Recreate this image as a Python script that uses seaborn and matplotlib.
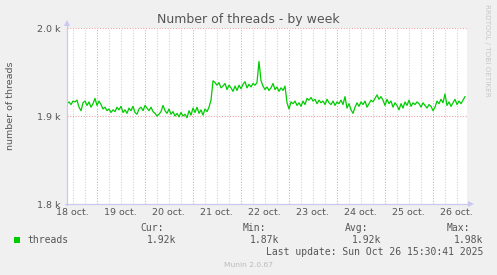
import matplotlib
matplotlib.use("Agg")
import matplotlib.pyplot as plt
import numpy as np
import pandas as pd
import seaborn as sns

# ---------------- data ----------------
start_time = "2025-10-18 09:15"
threads = [
    1914, 1916, 1913, 1917, 1916, 1918, 1910, 1906, 1915, 1917,
    1912, 1916, 1910, 1914, 1920, 1912, 1917, 1913, 1908, 1910,
    1906, 1908, 1904, 1907, 1905, 1910, 1907, 1911, 1904, 1907,
    1903, 1909, 1906, 1911, 1904, 1902, 1908, 1910, 1906, 1912,
    1909, 1906, 1910, 1905, 1903, 1900, 1902, 1905, 1912, 1906,
    1903, 1908, 1902, 1905, 1900, 1903, 1899, 1904, 1900, 1902,
    1898, 1906, 1901, 1909, 1904, 1910, 1903, 1907, 1901, 1908,
    1905, 1910, 1918, 1940, 1938, 1935, 1938, 1932, 1934, 1937,
    1930, 1935, 1932, 1928, 1934, 1929, 1935, 1931, 1936, 1939,
    1932, 1936, 1933, 1937, 1935, 1938, 1962, 1940, 1934, 1930,
    1933, 1929, 1932, 1937, 1930, 1933, 1928, 1932, 1929, 1934,
    1915, 1908, 1916, 1914, 1917, 1912, 1915, 1911, 1917, 1913,
    1920, 1918, 1921, 1917, 1919, 1914, 1918, 1915, 1917, 1913,
    1919, 1915, 1913, 1917, 1912, 1916, 1914, 1918, 1913, 1922,
    1909, 1914, 1907, 1903, 1910, 1915, 1911, 1916, 1913, 1917,
    1910, 1914, 1918, 1916, 1920, 1924, 1919, 1922, 1918, 1912,
    1919, 1914, 1917, 1910, 1915, 1912, 1907, 1914, 1909, 1916,
    1912, 1918, 1911, 1915, 1913, 1916, 1914, 1910, 1915, 1912,
    1909, 1913, 1911, 1906, 1910, 1917, 1914, 1919, 1915, 1925,
    1912, 1916, 1911, 1915, 1919, 1913, 1917, 1914, 1918, 1922,
]
day_labels = ["18 oct.", "19 oct.", "20 oct.", "21 oct.", "22 oct.",
              "23 oct.", "24 oct.", "25 oct.", "26 oct."]
y_ticks = [1800, 1900, 2000]
y_tick_labels = ["1.8 k", "1.9 k", "2.0 k"]
stat_names = ["Cur:", "Min:", "Avg:", "Max:"]
stat_values = ["1.92k", "1.87k", "1.92k", "1.98k"]
series_name = "threads"
title = "Number of threads - by week"
ylabel = "number of threads"
last_update = "Last update: Sun Oct 26 15:30:41 2025"
version = "Munin 2.0.67"
side_text = "RRDTOOL / TOBI OETIKER"

times = pd.date_range(start_time, periods=len(threads), freq="h")
df = pd.DataFrame({"time": times, "threads": threads})

# ---------------- figure ----------------
W, H = 497, 275
BG = "#F0F0F0"
fig = plt.figure(figsize=(W / 100, H / 100), dpi=100, facecolor=BG)

L, R, T, B = 67, 467, 28, 204
ax = fig.add_axes([L / W, 1 - B / H, (R - L) / W, (B - T) / H])
ax.set_facecolor("white")

sns.lineplot(data=df, x="time", y="threads", ax=ax, color="#00CC00",
             linewidth=0.9, zorder=5)

t0 = times[0]
t1 = t0 + pd.Timedelta(hours=200)
ax.set_xlim(t0, t1)
ax.set_ylim(1800, 2000)

dots = (0, (1.0, 1.6))
grey = "#CFCFCF"
red = "#EC9C9C"

# ticks / grids
day0 = pd.Timestamp("2025-10-18")
noons = [day0 + pd.Timedelta(days=k, hours=12) for k in range(len(day_labels))]
ax.set_xticks(noons)
ax.set_xticklabels(day_labels)
ax.tick_params(axis="x", which="both", length=0, pad=3, labelsize=6.8,
               labelcolor="#555555")
ax.grid(False)
six_hours = pd.date_range(t0.floor("D"), t1, freq="6h")
for h in six_hours:
    if h.hour == 0:
        ax.axvline(h, color=red, linestyle=dots, linewidth=0.75, zorder=2)
    else:
        ax.axvline(h, color=grey, linestyle=dots, linewidth=0.75, zorder=1)

ax.set_yticks(y_ticks)
ax.set_yticklabels(y_tick_labels)
ax.tick_params(axis="y", length=0, pad=5, labelsize=6.8, labelcolor="#555555")
for v in y_ticks:
    ax.axhline(v, color=red, linestyle=dots, linewidth=0.75, zorder=2)

for s in ax.spines.values():
    s.set_visible(False)
ax.set_xlabel("")
ax.set_ylabel("")

# axis lines with arrows (in pixel coordinates of figure)
axis_col = "#C8C8F0"
fig.add_artist(plt.Line2D([L / W, L / W], [1 - (B + 1) / H, 1 - 24 / H],
                          color=axis_col, linewidth=0.9))
fig.add_artist(plt.Line2D([(L - 2) / W, 469 / W], [1 - B / H, 1 - B / H],
                          color=axis_col, linewidth=0.9))
fig.add_artist(plt.Polygon([[(L - 3) / W, 1 - 26 / H], [(L + 3) / W, 1 - 26 / H],
                            [L / W, 1 - 20 / H]], closed=True,
                           facecolor=axis_col, edgecolor="none"))
fig.add_artist(plt.Polygon([[468 / W, 1 - (B - 3) / H], [468 / W, 1 - (B + 3) / H],
                            [474 / W, 1 - B / H]], closed=True,
                           facecolor=axis_col, edgecolor="none"))

# texts
def ftext(x, y, s, **kw):
    fig.text(x / W, 1 - y / H, s, **kw)

ftext(248, 23, title, ha="center", va="baseline", fontsize=9,
      color="#555555", family="DejaVu Sans")
ftext(15, 106, ylabel, ha="right", va="center", rotation=90, fontsize=6.8,
      color="#555555", family="DejaVu Sans")
ftext(487, 4, side_text, ha="center", va="top", rotation=270, fontsize=5.2,
      color="#C8C8C8", family="DejaVu Sans")

mono = dict(family="DejaVu Sans Mono", fontsize=7, color="#555555",
            va="baseline")
fig.add_artist(plt.Rectangle((14 / W, 1 - 243 / H), 6 / W, 6 / H,
                             facecolor="#00CC00", edgecolor="none"))
ftext(27, 243, series_name, ha="left", **mono)
name_x = [140, 243, 345, 447]
val_right = [176, 279, 381, 483]
for nx, vr, n, v in zip(name_x, val_right, stat_names, stat_values):
    ftext(nx, 231, n, ha="left", **mono)
    ftext(vr, 243, v, ha="right", **mono)
ftext(483, 255, last_update, ha="right", **mono)
ftext(248, 267, version, ha="center", va="baseline", fontsize=5.4,
      color="#BBBBBB", family="DejaVu Sans")

fig.savefig("out.png", dpi=100, facecolor=BG)
